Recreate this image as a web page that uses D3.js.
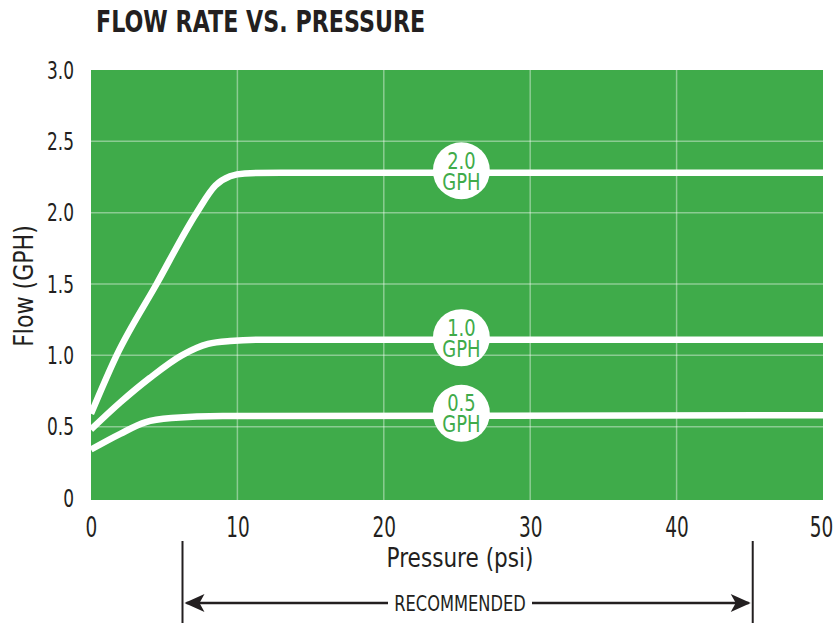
<!DOCTYPE html>
<html>
<head>
<meta charset="utf-8">
<script src="https://cdn.jsdelivr.net/npm/d3@7"></script>
<style>
body { margin: 0; background: #fff; }
text { font-family: "DejaVu Sans", sans-serif; }
</style>
</head>
<body>
<script>
var width = 838, height = 623;

// pressure (psi) / flow (GPH)
var press20 = [0, 1.75, 4.48, 7.22, 8.5, 9.5, 10.5, 13, 50];
var flow20  = [0.59, 1.0, 1.5, 2.0, 2.19, 2.255, 2.275, 2.28, 2.28];
var press10 = [0, 2, 4, 6.2, 8, 9.5, 12, 50];
var flow10  = [0.48, 0.67, 0.84, 1.0, 1.08, 1.10, 1.11, 1.11];
var press05 = [0, 2, 3.7, 5.5, 9, 50];
var flow05  = [0.34, 0.45, 0.53, 0.56, 0.575, 0.58];

var seriesNames = ["2.0", "1.0", "0.5"];
var xTicks = [0, 10, 20, 30, 40, 50];
var yTicks = [0, 0.5, 1.0, 1.5, 2.0, 2.5, 3.0];
var labelPressure = 25.3;
var recommended = [6.25, 45.2];

var green = "#3fab4a";
var ink = "#231f20";

var x = d3.scaleLinear().domain([0, 50]).range([91, 823]);
var y = d3.scaleLinear().domain([0, 3]).range([498, 70]);

// text placed at (px,py) and squeezed by k to look like a condensed face
function squeezed(parent, px, py, k) {
	return parent.append("text")
		.attr("transform", "translate(" + px + "," + py + ") scale(" + k + ",1)");
}

var svg = d3.select("body").append("svg")
	.attr("width", width)
	.attr("height", height);

squeezed(svg, 96, 32, 0.74)
	.attr("font-size", 30).attr("font-weight", "bold")
	.attr("fill", ink)
	.text("FLOW RATE VS. PRESSURE");

// plot background
svg.append("rect")
	.attr("x", x(0)).attr("y", y(3))
	.attr("width", x(50) - x(0))
	.attr("height", y(0) - y(3) + 2)
	.attr("fill", green);

// grid
svg.append("g").selectAll("line")
	.data(xTicks.slice(1, -1))
	.enter().append("line")
	.attr("x1", function(d) { return x(d); })
	.attr("x2", function(d) { return x(d); })
	.attr("y1", y(3)).attr("y2", y(0) + 2)
	.attr("stroke", "rgba(255,255,255,0.4)")
	.attr("stroke-width", 1.5);

svg.append("g").selectAll("line")
	.data(yTicks.slice(1, -1))
	.enter().append("line")
	.attr("x1", x(0)).attr("x2", x(50))
	.attr("y1", function(d) { return y(d); })
	.attr("y2", function(d) { return y(d); })
	.attr("stroke", "rgba(255,255,255,0.4)")
	.attr("stroke-width", 1.5);

// axes (text only)
var xAxis = d3.axisBottom(x).tickValues(xTicks).tickSize(0).tickPadding(0)
	.tickFormat(d3.format("d"));
var gx = svg.append("g")
	.attr("transform", "translate(0," + 537 + ")")
	.call(xAxis);
gx.select(".domain").remove();
gx.selectAll("text")
	.attr("font-size", 28).attr("fill", ink)
	.attr("dy", 0)
	.attr("transform", function(d) { return d === 50 ? "translate(-2,0) scale(0.66,1)" : "scale(0.66,1)"; });

var yAxis = d3.axisLeft(y).tickValues(yTicks).tickSize(0).tickPadding(0)
	.tickFormat(function(d) { return d === 0 ? "0" : d3.format(".1f")(d); });
var gy = svg.append("g")
	.attr("transform", "translate(" + 74 + ",0)")
	.call(yAxis);
gy.select(".domain").remove();
gy.selectAll("text")
	.attr("font-size", 25).attr("fill", ink)
	.attr("transform", "scale(0.68,1)");

squeezed(svg, 460, 567, 0.8)
	.attr("text-anchor", "middle")
	.attr("font-size", 27).attr("fill", ink)
	.text("Pressure (psi)");

svg.append("text")
	.attr("transform", "translate(33,286) rotate(-90) scale(0.85,1)")
	.attr("text-anchor", "middle")
	.attr("font-size", 26).attr("fill", ink)
	.text("Flow (GPH)");

// curves
var series = [
	{ name: seriesNames[0], pts: d3.zip(press20, flow20) },
	{ name: seriesNames[1], pts: d3.zip(press10, flow10) },
	{ name: seriesNames[2], pts: d3.zip(press05, flow05) }
];

var line = d3.line()
	.x(function(d) { return x(d[0]); })
	.y(function(d) { return y(d[1]); })
	.curve(d3.curveMonotoneX);

svg.append("g").selectAll("path")
	.data(series)
	.enter().append("path")
	.attr("d", function(d) { return line(d.pts); })
	.attr("fill", "none")
	.attr("stroke", "#fff")
	.attr("stroke-width", 6.5);

// labels on the lines
var lab = svg.append("g").selectAll("g")
	.data(series)
	.enter().append("g")
	.attr("transform", function(d) {
		var v = d.pts[d.pts.length - 1][1];
		return "translate(" + x(labelPressure) + "," + (y(v) - 2) + ")";
	});
lab.append("circle")
	.attr("r", 28.5)
	.attr("fill", "#fff");
var lt = lab.append("text")
	.attr("transform", "scale(0.78,1)")
	.attr("text-anchor", "middle")
	.attr("font-size", 23).attr("fill", green);
lt.append("tspan")
	.attr("x", 0).attr("y", -2)
	.text(function(d) { return d.name; });
lt.append("tspan")
	.attr("x", 0).attr("y", 19)
	.text("GPH");

// recommended range
var rx0 = x(recommended[0]), rx1 = x(recommended[1]);
svg.append("g").selectAll("line")
	.data(recommended)
	.enter().append("line")
	.attr("x1", function(d) { return x(d); })
	.attr("x2", function(d) { return x(d); })
	.attr("y1", 541).attr("y2", height)
	.attr("stroke", ink).attr("stroke-width", 2);

svg.append("line")
	.attr("x1", rx0 + 4).attr("x2", 388)
	.attr("y1", 603).attr("y2", 603)
	.attr("stroke", ink).attr("stroke-width", 2.5);
svg.append("line")
	.attr("x1", 532).attr("x2", rx1 - 4)
	.attr("y1", 603).attr("y2", 603)
	.attr("stroke", ink).attr("stroke-width", 2.5);

svg.append("path")
	.attr("d", "M" + (rx0 + 2) + ",603 L" + (rx0 + 22) + ",594 L" + (rx0 + 17) + ",603 L" + (rx0 + 22) + ",612 Z")
	.attr("fill", ink);
svg.append("path")
	.attr("d", "M" + (rx1 - 2) + ",603 L" + (rx1 - 22) + ",594 L" + (rx1 - 17) + ",603 L" + (rx1 - 22) + ",612 Z")
	.attr("fill", ink);

squeezed(svg, 460, 611, 0.74)
	.attr("text-anchor", "middle")
	.attr("font-size", 22).attr("fill", ink)
	.text("RECOMMENDED");
</script>
</body>
</html>
